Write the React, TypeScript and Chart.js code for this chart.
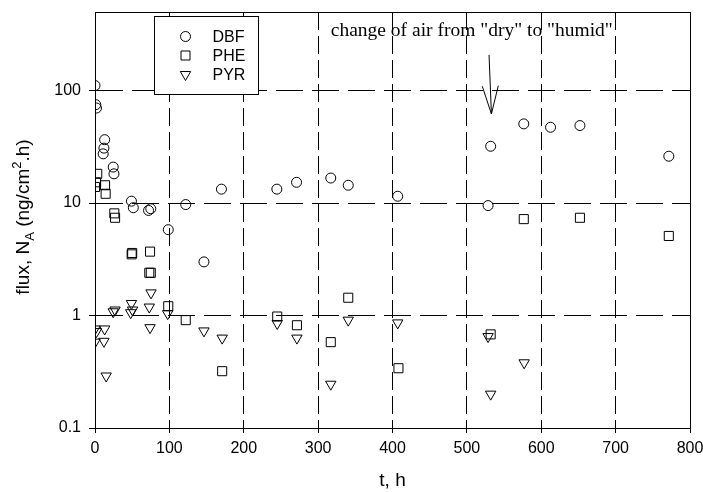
import React, { useEffect, useRef } from 'react';
import { Chart, registerables } from 'chart.js';

Chart.register(...registerables);

// ---- data (t in h, flux in ng/cm2.h) ----
const dbfTime = [0, 1, 2, 11, 12, 13, 24.5, 25.5, 49, 51.5, 72, 75, 98.5, 122, 146.5, 170, 244.5, 271, 317, 340.5, 407, 528.5, 532, 576.5, 612.5, 652, 771.5];
const dbfFlux = [111, 75, 70, 27.4, 30.8, 36.6, 20.9, 18.2, 10.4, 9.1, 8.6, 8.9, 5.8, 9.7, 3.0, 13.3, 13.3, 15.3, 16.7, 14.4, 11.5, 9.5, 32, 50.6, 47.2, 48.9, 26.1];

const pheTime = [0, 1.5, 3, 13.5, 14.3, 26, 27, 49.3, 50, 74, 73, 75, 98.5, 122, 171, 245, 271.5, 317, 340.5, 408, 532, 576.5, 652, 771.5];
const pheFlux = [13.9, 15.3, 18.2, 14.4, 12.1, 8.1, 7.4, 3.5, 3.6, 3.7, 2.4, 2.4, 1.21, 0.91, 0.32, 0.98, 0.82, 0.58, 1.44, 0.34, 0.68, 7.2, 7.4, 5.1];

const pyrTime = [0, 2, 13, 0, 12, 15, 24.5, 27, 48, 49, 50.5, 73, 74, 75.3, 97.7, 146.5, 171, 245, 271.5, 317, 340.5, 407, 528.5, 532, 577];
const pyrFlux = [0.76, 0.72, 0.76, 0.58, 0.59, 0.29, 1.08, 1.12, 1.06, 1.28, 1.12, 1.19, 0.78, 1.59, 1.04, 0.73, 0.63, 0.85, 0.63, 0.245, 0.91, 0.86, 0.65, 0.2, 0.38];

const seriesLabels = ['DBF', 'PHE', 'PYR'];

const xMin = 0;
const xMax = 800;
const xStep = 100;
const yMin = 0.1;
const yMax = 500;
const yTickValues = [0.1, 1, 10, 100];
const yTickLabels = ['0.1', '1', '10', '100'];

const xTitle = 't, h';
const annotText = 'change of air from "dry" to "humid"';
const annotTextT = 317;
const annotTextFlux = 308;
const arrowFromT = 529.8;
const arrowFromFlux = 208;
const arrowToT = 533;
const arrowToFlux = 62;

const SANS = "'Liberation Sans', Arial, sans-serif";
const SERIF = "'Liberation Serif', 'Times New Roman', serif";

function zip(t: number[], f: number[]) {
  return t.map((x, i) => ({ x, y: f[i] }));
}

function drawMarker(ctx: CanvasRenderingContext2D, kind: number, x: number, y: number) {
  ctx.beginPath();
  if (kind === 0) {
    ctx.arc(x, y, 5, 0, Math.PI * 2);
  } else if (kind === 1) {
    ctx.rect(x - 4.5, y - 4.5, 9, 9);
  } else {
    const r = 6;
    ctx.moveTo(x, y + r);
    ctx.lineTo(x - r * Math.sin(Math.PI / 3), y - r / 2);
    ctx.lineTo(x + r * Math.sin(Math.PI / 3), y - r / 2);
    ctx.closePath();
  }
  ctx.stroke();
}

const overlayPlugin = {
  id: 'overlay',
  afterDraw(chart: any) {
    const ctx: CanvasRenderingContext2D = chart.ctx;
    const a = chart.chartArea;
    const xs = chart.scales.x;
    const ys = chart.scales.y;
    ctx.save();
    ctx.setLineDash([]);
    ctx.strokeStyle = '#000';
    ctx.lineWidth = 1;

    // frame
    const L = Math.round(a.left) + 0.5;
    const T = Math.round(a.top) + 0.5;
    const R = Math.round(a.right) + 0.5;
    const B = Math.round(a.bottom) + 0.5;
    ctx.strokeRect(L, T, R - L, B - T);

    // legend box
    const bx = L + 59;
    const by = T + 4;
    const bw = 104;
    const bh = 78;
    ctx.fillStyle = '#fff';
    ctx.fillRect(bx, by, bw, bh);
    ctx.strokeRect(bx, by, bw, bh);
    ctx.fillStyle = '#000';
    ctx.font = `16px ${SANS}`;
    ctx.textBaseline = 'middle';
    ctx.textAlign = 'left';
    seriesLabels.forEach((lab, i) => {
      const ry = by + 20 + i * 19;
      drawMarker(ctx, i, bx + 31, ry);
      ctx.fillText(lab, bx + 58, ry + 1);
    });

    // annotation text
    ctx.font = `19.5px ${SERIF}`;
    ctx.textBaseline = 'alphabetic';
    ctx.textAlign = 'left';
    ctx.fillText(annotText, xs.getPixelForValue(annotTextT), ys.getPixelForValue(annotTextFlux));

    // arrow
    const x1 = xs.getPixelForValue(arrowFromT);
    const y1 = ys.getPixelForValue(arrowFromFlux);
    const x2 = xs.getPixelForValue(arrowToT);
    const y2 = ys.getPixelForValue(arrowToFlux);
    ctx.beginPath();
    ctx.moveTo(x1, y1);
    ctx.lineTo(x2, y2);
    const ang = Math.atan2(y2 - y1, x2 - x1);
    const hl = 28;
    const hw = 8;
    const bxp = x2 - hl * Math.cos(ang);
    const byp = y2 - hl * Math.sin(ang);
    ctx.moveTo(bxp + hw * Math.sin(ang), byp - hw * Math.cos(ang));
    ctx.lineTo(x2, y2);
    ctx.lineTo(bxp - hw * Math.sin(ang), byp + hw * Math.cos(ang));
    ctx.stroke();

    // y axis title with subscript / superscript
    const pieces = [
      { text: 'flux, N', size: 19, dy: 0 },
      { text: 'A', size: 13, dy: 5 },
      { text: ' (ng/cm', size: 19, dy: 0 },
      { text: '2', size: 13, dy: -8 },
      { text: '.h)', size: 19, dy: 0 },
    ];
    let total = 0;
    const widths = pieces.map((p) => {
      ctx.font = `${p.size}px ${SANS}`;
      const w = ctx.measureText(p.text).width;
      total += w;
      return w;
    });
    const cy = (a.top + a.bottom) / 2 - 3;
    ctx.translate(29, cy);
    ctx.rotate(-Math.PI / 2);
    let px = -total / 2;
    pieces.forEach((p, i) => {
      ctx.font = `${p.size}px ${SANS}`;
      ctx.fillText(p.text, px, p.dy);
      px += widths[i];
    });
    ctx.restore();
  },
};

export default function App() {
  const ref = useRef<HTMLCanvasElement | null>(null);
  useEffect(() => {
    if (!ref.current) return;
    const common = {
      showLine: false,
      borderColor: '#000',
      backgroundColor: 'rgba(0,0,0,0)',
      borderWidth: 1,
    };
    const chart = new Chart(ref.current, {
      type: 'scatter',
      data: {
        datasets: [
          { ...common, label: seriesLabels[0], data: zip(dbfTime, dbfFlux), pointStyle: 'circle', pointRadius: 5 },
          { ...common, label: seriesLabels[1], data: zip(pheTime, pheFlux), pointStyle: 'rect', pointRadius: 6.4 },
          { ...common, label: seriesLabels[2], data: zip(pyrTime, pyrFlux), pointStyle: 'triangle', pointRadius: 6, pointRotation: 180 },
        ],
      },
      options: {
        animation: false,
        responsive: false,
        devicePixelRatio: 1,
        layout: { padding: { left: 0, top: 12, right: 13, bottom: 0 } },
        plugins: { legend: { display: false }, tooltip: { enabled: false } },
        scales: {
          x: {
            type: 'linear',
            min: xMin,
            max: xMax,
            afterFit: (s: any) => { s.height = 64; s.paddingLeft = 0; s.paddingRight = 0; },
            ticks: { stepSize: xStep, color: '#000', font: { family: SANS, size: 16 }, padding: 6, maxRotation: 0 },
            grid: { color: '#000', lineWidth: 1, tickLength: 5, tickColor: '#000', tickBorderDash: [] },
            border: { display: true, color: '#000', width: 1, dash: [18, 6] },
            title: { display: true, text: xTitle, color: '#000', font: { family: SANS, size: 19 }, padding: { top: 0, bottom: 0 } },
          },
          y: {
            type: 'logarithmic',
            min: yMin,
            max: yMax,
            afterFit: (s: any) => { s.width = 95; s.paddingTop = 0; s.paddingBottom = 0; },
            afterBuildTicks: (s: any) => { s.ticks = yTickValues.map((v) => ({ value: v })); },
            ticks: {
              autoSkip: false,
              color: '#000',
              font: { family: SANS, size: 16 },
              padding: 8,
              callback: (v: any) => {
                const i = yTickValues.indexOf(Number(v));
                return i >= 0 ? yTickLabels[i] : '';
              },
            },
            grid: { color: '#000', lineWidth: 1, tickLength: 6, tickColor: '#000', tickBorderDash: [] },
            border: { display: true, color: '#000', width: 1, dash: [27, 9] },
          },
        },
      },
      plugins: [overlayPlugin],
    } as any);
    return () => chart.destroy();
  }, []);
  return (
    <div style={{ position: 'absolute', left: 0, top: 0, width: 703, height: 492, background: '#fff' }}>
      <canvas ref={ref} width={703} height={492} style={{ width: 703, height: 492, display: 'block' }} />
    </div>
  );
}
